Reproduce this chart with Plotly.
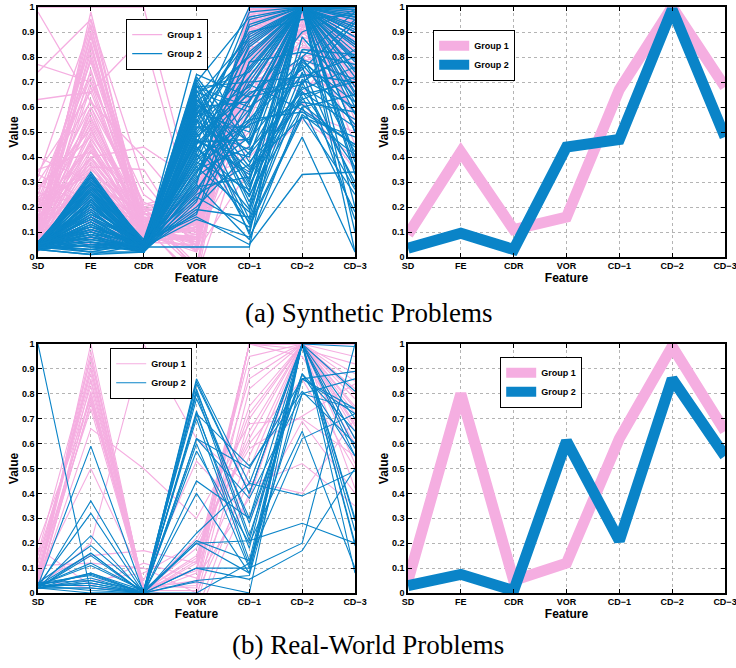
import plotly.graph_objects as go

features = ["SD", "FE", "CDR", "VOR", "CD\u22121", "CD\u22122", "CD\u22123"]
y_ticks = [0, 0.1, 0.2, 0.3, 0.4, 0.5, 0.6, 0.7, 0.8, 0.9, 1]
y_tick_labels = ["0", "0.1", "0.2", "0.3", "0.4", "0.5", "0.6", "0.7", "0.8", "0.9", "1"]

# (a) Synthetic problems: individual problems, Group 1
syn_group1 = [
    [0.05, 0.98, 0.12, 0.10, 0.95, 1.00, 0.98],
    [0.08, 0.95, 0.15, 0.05, 0.90, 0.98, 0.95],
    [0.12, 0.92, 0.10, 0.12, 0.85, 1.00, 0.90],
    [0.03, 0.90, 0.08, 0.20, 0.98, 0.95, 0.85],
    [0.15, 0.88, 0.18, 0.02, 0.80, 0.90, 1.00],
    [0.20, 0.85, 0.12, 0.15, 0.75, 1.00, 0.80],
    [0.10, 0.82, 0.07, 0.08, 0.92, 0.85, 0.75],
    [0.06, 0.80, 0.20, 0.25, 0.70, 0.98, 0.95],
    [0.25, 0.78, 0.14, -0.05, 0.88, 1.00, 0.70],
    [0.04, 0.75, 0.09, 0.18, 1.00, 0.92, 0.88],
    [0.18, 0.72, 0.16, 0.10, 0.65, 0.80, 0.65],
    [0.09, 0.70, 0.11, 0.22, 0.95, 1.00, 0.92],
    [0.63, 0.66, 0.13, 0.06, 0.60, 0.75, 0.60],
    [0.30, 0.62, 0.22, 0.12, 0.82, 0.97, 0.98],
    [0.07, 0.60, 0.10, 0.28, 0.78, 1.00, 0.55],
    [0.14, 0.58, 0.08, 0.04, 0.90, 0.88, 0.82],
    [0.22, 0.55, 0.17, 0.16, 0.98, 1.00, 1.00],
    [0.05, 0.52, 0.06, 0.09, 0.72, 0.70, 0.68],
    [0.11, 0.50, 0.19, 0.20, 0.86, 0.95, 0.90],
    [0.28, 0.48, 0.12, -0.08, 0.55, 1.00, 0.78],
    [0.03, 0.46, 0.09, 0.14, 0.93, 0.90, 0.96],
    [0.16, 0.45, 0.15, 0.24, 0.68, 0.98, 0.72],
    [0.08, 0.43, 0.11, 0.07, 0.84, 1.00, 0.88],
    [0.35, 0.42, 0.20, 0.11, 0.96, 0.82, 0.62],
    [0.12, 0.40, 0.08, 0.19, 0.76, 0.93, 0.99],
    [0.06, 0.38, 0.13, 0.03, 0.89, 1.00, 0.84],
    [0.19, 0.37, 0.10, 0.26, 0.62, 0.87, 0.58],
    [0.04, 0.35, 0.16, 0.13, 0.99, 0.96, 0.94],
    [0.24, 0.34, 0.07, 0.08, 0.81, 1.00, 0.76],
    [0.10, 0.32, 0.12, 0.21, 0.70, 0.78, 0.86],
    [0.40, 0.30, 0.18, -0.03, 0.91, 1.00, 0.97],
    [0.07, 0.29, 0.09, 0.15, 0.58, 0.92, 0.66],
    [0.13, 0.28, 0.14, 0.10, 0.87, 0.99, 0.91],
    [0.05, 0.26, 0.06, 0.23, 0.74, 0.84, 0.80],
    [0.21, 0.25, 0.11, 0.05, 0.94, 1.00, 1.00],
    [0.09, 0.23, 0.15, 0.17, 0.66, 0.90, 0.70],
    [0.33, 0.22, 0.08, 0.12, 0.83, 0.96, 0.93],
    [0.04, 0.20, 0.12, 0.27, 0.50, 1.00, 0.52],
    [0.17, 0.18, 0.10, 0.06, 0.97, 0.86, 0.89],
    [0.08, 0.16, 0.13, 0.18, 0.79, 1.00, 0.83],
    [0.26, 0.15, 0.09, 0.02, 0.63, 0.94, 0.64],
    [0.06, 0.12, 0.07, 0.14, 0.92, 1.00, 0.98],
    [0.12, 0.10, 0.11, 0.22, 0.85, 0.72, 0.74],
    [0.03, 0.08, 0.06, 0.09, 0.45, 0.98, 0.45],
    [0.77, 0.70, 0.25, 0.10, 0.88, 1.00, 0.96],
    [0.74, 0.95, 0.30, 0.04, 0.97, 1.00, 0.90],
    [0.98, 0.62, 0.40, 0.15, 0.73, 0.90, 0.87],
    [1.00, 1.00, 1.00, 0.20, 0.99, 1.00, 1.00],
    [0.34, 0.66, 0.88, 0.12, 0.94, 0.97, 0.99],
    [0.02, 0.40, 0.44, 0.30, 0.40, 0.62, 0.35],
    [0.15, 0.36, 0.35, 0.02, 0.35, 0.55, 0.40],
    [0.10, 0.56, 0.13, -0.10, 0.98, 1.00, 0.95],
    [0.20, 0.60, 0.21, 0.26, 0.80, 0.65, 0.92],
    [0.05, 0.47, 0.17, 0.20, 1.00, 1.00, 0.85],
    [0.14, 0.44, 0.08, 0.11, 0.90, 0.91, 0.79],
    [0.09, 0.39, 0.14, 0.24, 0.95, 1.00, 0.93],
    [0.23, 0.33, 0.19, 0.07, 0.82, 0.98, 0.68],
    [0.07, 0.27, 0.10, 0.17, 0.99, 1.00, 0.96],
    [0.18, 0.53, 0.12, 0.25, 0.71, 0.58, 0.50],
    [0.11, 0.86, 0.09, 0.13, 0.93, 1.00, 0.97],
    [0.04, 0.58, 0.10, 0.08, 0.96, 1.00, 0.94],
    [0.13, 0.54, 0.14, 0.19, 0.88, 0.97, 0.86],
    [0.27, 0.51, 0.09, 0.03, 0.77, 1.00, 0.99],
    [0.08, 0.49, 0.18, 0.23, 0.91, 0.93, 0.73],
    [0.19, 0.45, 0.07, 0.12, 0.99, 1.00, 0.90],
    [0.03, 0.42, 0.12, 0.16, 0.69, 0.89, 0.95],
    [0.15, 0.40, 0.16, -0.04, 0.85, 1.00, 0.81],
    [0.06, 0.36, 0.08, 0.21, 0.94, 0.99, 0.98],
    [0.22, 0.33, 0.13, 0.09, 0.73, 0.84, 0.69],
    [0.10, 0.31, 0.10, 0.14, 0.97, 1.00, 0.92],
    [0.05, 0.28, 0.19, 0.26, 0.81, 0.95, 0.87],
    [0.17, 0.24, 0.06, 0.05, 0.90, 1.00, 1.00],
    [0.29, 0.21, 0.11, 0.18, 0.64, 0.91, 0.77],
    [0.07, 0.19, 0.15, 0.10, 0.98, 1.00, 0.96],
    [0.12, 0.14, 0.09, 0.22, 0.87, 0.80, 0.84],
    [0.04, 0.11, 0.07, 0.07, 0.93, 1.00, 0.90],
    [0.20, 0.07, 0.12, 0.15, 0.76, 0.97, 0.71],
    [0.09, 0.05, 0.08, 0.11, 0.84, 1.00, 0.99],
    [0.14, 0.63, 0.17, 0.20, 0.95, 0.94, 0.93],
    [0.06, 0.68, 0.11, 0.06, 0.89, 1.00, 0.88],
    [0.23, 0.74, 0.13, 0.17, 0.80, 0.99, 0.97],
    [0.11, 0.79, 0.20, -0.06, 0.96, 1.00, 0.82],
    [0.05, 0.84, 0.10, 0.24, 0.71, 0.92, 0.94],
    [0.16, 0.89, 0.15, 0.13, 0.99, 1.00, 0.98],
    [0.32, 0.93, 0.09, 0.08, 0.86, 0.96, 0.85],
]

# (a) Synthetic problems: individual problems, Group 2
syn_group2 = [
    [0.05, 0.33, 0.06, 0.72, 0.45, 1.00, 0.90],
    [0.04, 0.32, 0.05, 0.70, 0.30, 1.00, 0.60],
    [0.06, 0.30, 0.07, 0.68, 0.60, 0.75, 0.95],
    [0.03, 0.28, 0.04, 0.65, 0.20, 1.00, 0.40],
    [0.05, 0.27, 0.03, 0.62, 0.80, 1.00, 1.00],
    [0.04, 0.25, 0.05, 0.60, 0.15, 0.70, 0.30],
    [0.05, 0.24, 0.06, 0.58, 0.50, 1.00, 0.85],
    [0.03, 0.22, 0.02, 0.55, 0.35, 0.65, 0.70],
    [0.06, 0.21, 0.04, 0.53, 0.92, 1.00, 0.75],
    [0.04, 0.20, 0.05, 0.50, 0.10, 1.00, 0.50],
    [0.05, 0.18, 0.03, 0.48, 0.65, 0.80, 0.98],
    [0.03, 0.17, 0.06, 0.46, 0.40, 1.00, 0.20],
    [0.05, 0.15, 0.04, 0.44, 0.25, 0.60, 0.65],
    [0.04, 0.14, 0.02, 0.42, 0.75, 1.00, 0.88],
    [0.06, 0.12, 0.05, 0.40, 0.55, 0.58, 0.45],
    [0.03, 0.10, 0.03, 0.38, 0.85, 1.00, 0.95],
    [0.05, 0.09, 0.06, 0.36, 0.18, 1.00, 0.35],
    [0.04, 0.08, 0.04, 0.34, 0.70, 0.72, 0.80],
    [0.05, 0.06, 0.02, 0.32, 0.48, 1.00, 0.02],
    [0.03, 0.05, 0.05, 0.30, 0.95, 1.00, 1.00],
    [0.06, 0.04, 0.03, 0.28, 0.32, 0.68, 0.55],
    [0.04, 0.03, 0.04, 0.26, 0.62, 1.00, 0.72],
    [0.05, 0.02, 0.06, 0.24, 0.12, 0.56, 0.25],
    [0.03, 0.01, 0.02, 0.22, 0.78, 1.00, 0.92],
    [0.05, 0.31, 0.05, 0.20, 0.42, 0.78, 0.62],
    [0.04, 0.29, 0.03, 0.18, 0.58, 1.00, 0.82],
    [0.06, 0.26, 0.06, 0.16, 0.05, 0.33, 0.34],
    [0.03, 0.23, 0.04, 0.15, 0.08, 0.48, 0.02],
    [0.05, 0.19, 0.02, 0.64, 0.88, 1.00, 0.98],
    [0.04, 0.16, 0.05, 0.71, 0.38, 0.62, 0.58],
    [0.05, 0.13, 0.03, 0.56, 0.68, 1.00, 0.66],
    [0.03, 0.11, 0.06, 0.67, 0.22, 0.74, 0.15],
    [0.06, 0.07, 0.04, 0.52, 0.52, 1.00, 0.78],
    [0.04, 0.33, 0.02, 0.45, 0.98, 1.00, 0.96],
    [0.05, 0.28, 0.05, 0.59, 0.28, 0.80, 0.42],
    [0.03, 0.21, 0.03, 0.49, 0.72, 1.00, 0.86],
    [0.05, 0.17, 0.06, 0.41, 0.14, 0.66, 0.52],
    [0.04, 0.14, 0.04, 0.83, 0.45, 1.00, 0.74],
    [0.06, 0.10, 0.02, 0.37, 0.63, 0.90, 0.99],
    [0.03, 0.06, 0.04, 0.04, 0.04, 1.00, 0.68],
    [0.05, 0.24, 0.03, 0.33, 0.82, 1.00, 0.90],
    [0.04, 0.19, 0.06, 0.63, 0.36, 0.56, 0.48],
    [0.05, 0.12, 0.04, 0.27, 0.57, 1.00, 0.10],
    [0.03, 0.08, 0.02, 0.57, 0.90, 0.95, 0.97],
    [0.06, 0.30, 0.05, 0.69, 0.26, 1.00, 0.57],
    [0.04, 0.22, 0.03, 0.43, 0.66, 0.70, 0.83],
    [0.05, 0.15, 0.06, 0.61, 0.46, 1.00, 0.38],
    [0.03, 0.05, 0.04, 0.19, 0.16, 0.88, 0.64],
    [0.05, 0.26, 0.02, 0.54, 1.00, 1.00, 0.93],
    [0.04, 0.18, 0.05, 0.47, 0.34, 0.63, 0.72],
    [0.06, 0.11, 0.03, 0.66, 0.74, 1.00, 0.99],
    [0.03, 0.32, 0.06, 0.39, 0.54, 0.76, 0.28],
    [0.05, 0.20, 0.04, 0.58, 0.09, 1.00, 0.80],
    [0.04, 0.09, 0.02, 0.51, 0.86, 1.00, 0.62],
    [0.05, 0.27, 0.05, 0.73, 0.64, 0.69, 0.94],
    [0.03, 0.13, 0.03, 0.35, 0.44, 1.00, 0.50],
    [0.06, 0.04, 0.06, 0.17, 0.78, 0.82, 0.77],
    [0.04, 0.23, 0.04, 0.62, 0.31, 1.00, 0.88],
    [0.05, 0.16, 0.02, 0.45, 0.69, 0.59, 0.45],
    [0.03, 0.01, 0.05, 0.29, 0.93, 1.00, 1.00],
    [0.04, 0.30, 0.05, 0.66, 0.58, 1.00, 0.84],
    [0.05, 0.26, 0.03, 0.61, 0.24, 0.79, 0.71],
    [0.03, 0.22, 0.06, 0.57, 0.81, 1.00, 0.97],
    [0.06, 0.18, 0.04, 0.52, 0.43, 0.66, 0.36],
    [0.04, 0.14, 0.02, 0.48, 0.67, 1.00, 0.90],
    [0.05, 0.10, 0.05, 0.44, 0.19, 0.71, 0.60],
    [0.03, 0.07, 0.03, 0.40, 0.89, 1.00, 0.79],
    [0.05, 0.03, 0.06, 0.36, 0.53, 0.61, 0.44],
    [0.04, 0.32, 0.04, 0.31, 0.72, 1.00, 0.96],
    [0.06, 0.25, 0.02, 0.25, 0.37, 0.77, 0.53],
    [0.03, 0.20, 0.05, 0.70, 0.96, 1.00, 0.99],
    [0.05, 0.15, 0.03, 0.65, 0.29, 0.64, 0.27],
    [0.04, 0.12, 0.06, 0.60, 0.62, 1.00, 0.86],
    [0.05, 0.08, 0.04, 0.55, 0.13, 0.57, 0.41],
    [0.03, 0.05, 0.02, 0.50, 0.76, 1.00, 0.92],
    [0.06, 0.29, 0.05, 0.46, 0.47, 0.73, 0.70],
    [0.04, 0.23, 0.03, 0.42, 0.84, 1.00, 0.65],
    [0.05, 0.17, 0.06, 0.38, 0.27, 0.83, 0.81],
    [0.03, 0.13, 0.04, 0.34, 0.59, 1.00, 0.33],
    [0.05, 0.09, 0.02, 0.29, 0.07, 0.60, 0.18],
    [0.04, 0.34, 0.05, 0.68, 0.70, 1.00, 1.00],
    [0.06, 0.21, 0.03, 0.63, 0.41, 0.67, 0.76],
    [0.03, 0.16, 0.06, 0.59, 0.87, 1.00, 0.91],
    [0.05, 0.11, 0.04, 0.23, 0.55, 0.79, 0.58],
    [0.04, 0.02, 0.02, 0.47, 0.33, 1.00, 0.85],
]

# (a) Synthetic problems: group means
syn_mean_group1 = [0.09, 0.42, 0.11, 0.16, 0.67, 1.00, 0.68]
syn_mean_group2 = [0.035, 0.095, 0.03, 0.44, 0.47, 0.99, 0.48]

# (b) Real-world problems: individual problems, Group 1
real_group1 = [
    [0.03, 1.00, 0.01, 0.10, 1.00, 1.00, 1.00],
    [0.05, 0.95, 0.02, 0.05, 1.00, 1.00, 0.95],
    [0.08, 0.92, 0.00, 0.12, 0.95, 1.00, 0.85],
    [0.10, 0.90, 0.03, 0.02, 1.00, 1.00, 0.80],
    [0.12, 0.88, 0.01, 0.15, 0.86, 1.00, 0.78],
    [0.02, 0.85, 0.00, 0.08, 1.00, 1.00, 0.72],
    [0.15, 0.83, 0.02, -0.05, 0.70, 1.00, 0.68],
    [0.06, 0.80, 0.01, 0.18, 0.62, 1.00, 0.65],
    [0.20, 0.78, 0.00, 0.13, 1.00, 0.95, 0.60],
    [0.04, 0.76, 0.03, 0.04, 0.55, 1.00, 0.75],
    [0.09, 0.74, 0.01, -0.08, 0.50, 1.00, 0.58],
    [0.03, 0.66, 0.50, 0.30, 0.68, 0.70, 0.55],
    [0.07, 0.50, 0.05, 0.53, 0.30, 0.69, 0.40],
    [0.02, 0.20, 1.00, 0.62, 0.43, 0.52, 0.35],
    [0.05, 0.15, 0.17, 0.12, 0.75, 1.00, 0.82],
    [0.11, 0.12, 0.10, 0.00, 0.45, 0.40, 0.70],
    [0.04, 0.05, 0.08, 0.20, 0.60, 0.86, 0.50],
    [0.18, 0.03, 0.12, 0.06, 0.38, 1.00, 0.62],
    [0.06, 0.97, 0.00, -0.02, 0.82, 1.00, 0.88],
    [0.13, 0.86, 0.02, 0.09, 1.00, 0.98, 0.92],
    [0.02, 0.81, 0.01, 0.14, 0.72, 1.00, 0.42],
    [0.08, 0.79, 0.00, 0.22, 0.58, 0.71, 0.84],
    [0.16, 0.94, 0.02, 0.03, 1.00, 1.00, 0.67],
    [0.03, 0.77, 0.01, 0.10, 0.65, 1.00, 0.52],
    [0.06, 0.90, 0.00, -0.10, 0.40, 1.00, 0.74],
    [0.05, 0.02, 0.01, 0.01, 0.90, 1.00, 1.00],
]

# (b) Real-world problems: individual problems, Group 2
real_group2 = [
    [1.00, 0.00, 0.00, 0.45, 0.30, 1.00, 0.30],
    [0.03, 0.59, 0.00, 0.86, 0.44, 1.00, 0.62],
    [0.02, 0.37, 0.01, 0.84, 0.40, 1.00, 0.70],
    [0.03, 0.32, 0.00, 0.82, 0.23, 0.88, 0.55],
    [0.02, 0.23, 0.00, 0.80, 0.21, 1.00, 0.25],
    [0.04, 0.19, 0.01, 0.78, 0.30, 0.86, 0.74],
    [0.03, 0.16, 0.00, 0.73, 0.13, 1.00, 0.20],
    [0.02, 0.15, 0.00, 0.72, 0.51, 0.81, 0.60],
    [0.03, 0.12, 0.01, 0.70, 0.11, 1.00, 0.81],
    [0.02, 0.08, 0.00, 0.62, 0.38, 0.80, 0.74],
    [0.03, 0.075, 0.00, 0.60, 0.10, 1.00, 0.19],
    [0.04, 0.05, 0.01, 0.57, 0.20, 0.65, 0.10],
    [0.02, 0.04, 0.00, 0.40, 0.08, 1.00, 0.08],
    [0.03, 0.03, 0.00, 0.24, 0.44, 0.39, 0.49],
    [0.02, 0.02, 0.00, 0.21, 0.13, 0.62, 0.72],
    [0.03, 0.08, 0.01, 0.20, 0.21, 0.28, 0.20],
    [0.02, 0.05, 0.00, 0.10, 0.10, 0.20, 1.00],
    [0.03, 0.03, 0.00, 0.10, 0.055, 0.17, 0.50],
    [0.02, 0.02, 0.00, 0.05, 0.07, 0.86, 0.89],
    [0.03, 0.01, 0.00, 0.045, 0.00, 1.00, 0.55],
    [0.02, 0.00, 0.00, 0.00, 0.12, 0.80, 0.86],
    [0.04, 0.07, 0.00, 0.85, 0.40, 1.00, 0.58],
    [0.03, 0.11, 0.01, 0.81, 0.28, 0.88, 0.65],
    [0.02, 0.16, 0.00, 0.72, 0.18, 1.00, 0.29],
    [0.03, 0.04, 0.00, 0.62, 0.50, 0.86, 0.72],
    [0.02, 0.06, 0.00, 0.20, 0.08, 1.00, 0.99],
]

# (b) Real-world problems: group means
real_mean_group1 = [0.05, 0.80, 0.05, 0.12, 0.62, 0.99, 0.65]
real_mean_group2 = [0.03, 0.075, 0.01, 0.61, 0.21, 0.86, 0.55]

PINK = "#F5AEE1"
BLUE = "#0A84C8"
W, H = 736, 668


def concat_lines(lines):
    xs, ys = [], []
    for ln in lines:
        xs.extend(features)
        xs.append(None)
        ys.extend(ln)
        ys.append(None)
    return xs, ys


fig = go.Figure()

panels = [
    ("x", "y", "legend", "many", 1.3, syn_group1, syn_group2),
    ("x2", "y2", "legend2", "mean", 11, syn_mean_group1, syn_mean_group2),
    ("x3", "y3", "legend3", "many", 1.1, real_group1, real_group2),
    ("x4", "y4", "legend4", "mean", 11, real_mean_group1, real_mean_group2),
]

for xa, ya, lg, kind, width, g1, g2 in panels:
    for name, color, data in (("Group 1", PINK, g1), ("Group 2", BLUE, g2)):
        if kind == "many":
            xs, ys = concat_lines(data)
        else:
            xs, ys = features, data
        fig.add_trace(go.Scatter(
            x=xs, y=ys, mode="lines", name=name, xaxis=xa, yaxis=ya,
            legend=lg, connectgaps=False, hoverinfo="skip",
            line=dict(color=color, width=width, shape="linear"),
        ))


def px_x(p):
    return p / W


def px_y(p):
    return (H - p) / H


tick_font = dict(family="Liberation Sans, Arial, sans-serif", size=9, color="black", weight="bold")
title_font = dict(family="Liberation Sans, Arial, sans-serif", size=12, color="black", weight="bold")

left_dom = [px_x(38), px_x(355)]
right_dom = [px_x(408), px_x(725)]
top_dom = [px_y(257), px_y(7)]
bot_dom = [px_y(593), px_y(344)]

axis_common_x = dict(
    type="category", categoryorder="array", categoryarray=features,
    range=[0, 6], tickfont=tick_font, showgrid=True, gridcolor="#b4b4b4",
    griddash="dot", gridwidth=1, showline=True, linecolor="black", linewidth=1.5,
    mirror="ticks", ticks="inside", ticklen=4, tickcolor="black", zeroline=False,
    title=dict(text="Feature", font=title_font, standoff=0),
    fixedrange=True, automargin=False, ticklabeloverflow="allow",
    ticklabelstandoff=-1,
)
axis_common_y = dict(
    range=[0, 1], tickvals=y_ticks, ticktext=y_tick_labels, tickfont=tick_font,
    showgrid=True, gridcolor="#b4b4b4", griddash="dot", gridwidth=1,
    showline=True, linecolor="black", linewidth=1.5, mirror="ticks",
    ticks="inside", ticklen=4, tickcolor="black", zeroline=False,
    title=dict(text="Value", font=title_font, standoff=1),
    fixedrange=True, automargin=False, ticklabeloverflow="allow",
)

fig.update_layout(
    xaxis=dict(axis_common_x, domain=left_dom, anchor="y"),
    yaxis=dict(axis_common_y, domain=top_dom, anchor="x"),
    xaxis2=dict(axis_common_x, domain=right_dom, anchor="y2"),
    yaxis2=dict(axis_common_y, domain=top_dom, anchor="x2"),
    xaxis3=dict(axis_common_x, domain=left_dom, anchor="y3"),
    yaxis3=dict(axis_common_y, domain=bot_dom, anchor="x3"),
    xaxis4=dict(axis_common_x, domain=right_dom, anchor="y4"),
    yaxis4=dict(axis_common_y, domain=bot_dom, anchor="x4"),
)

legend_common = dict(
    bgcolor="white", bordercolor="black", borderwidth=1.2,
    font=dict(family="Liberation Sans, Arial, sans-serif", size=9, color="black", weight="bold"),
    xanchor="left", yanchor="top", tracegroupgap=0, itemclick=False, itemdoubleclick=False,
)
fig.update_layout(
    legend=dict(legend_common, x=px_x(126), y=px_y(19)),
    legend2=dict(legend_common, x=px_x(433), y=px_y(30)),
    legend3=dict(legend_common, x=px_x(110), y=px_y(348)),
    legend4=dict(legend_common, x=px_x(500), y=px_y(357)),
)

caption_font = dict(family="Liberation Serif, Times New Roman, serif", size=27, color="black")
fig.add_annotation(text="(a) Synthetic Problems", x=px_x(368), y=px_y(313),
                   xref="paper", yref="paper", showarrow=False,
                   xanchor="center", yanchor="middle", font=caption_font)
fig.add_annotation(text="(b) Real-World Problems", x=px_x(368), y=px_y(645),
                   xref="paper", yref="paper", showarrow=False,
                   xanchor="center", yanchor="middle", font=caption_font)

fig.update_layout(
    width=W, height=H, margin=dict(l=0, r=0, t=0, b=0, autoexpand=False),
    paper_bgcolor="white", plot_bgcolor="white", showlegend=True,
)

fig.write_html(
    "out.html",
    config={"displayModeBar": False},
    post_script="document.body.style.margin='0';document.body.style.overflow='hidden';",
)
